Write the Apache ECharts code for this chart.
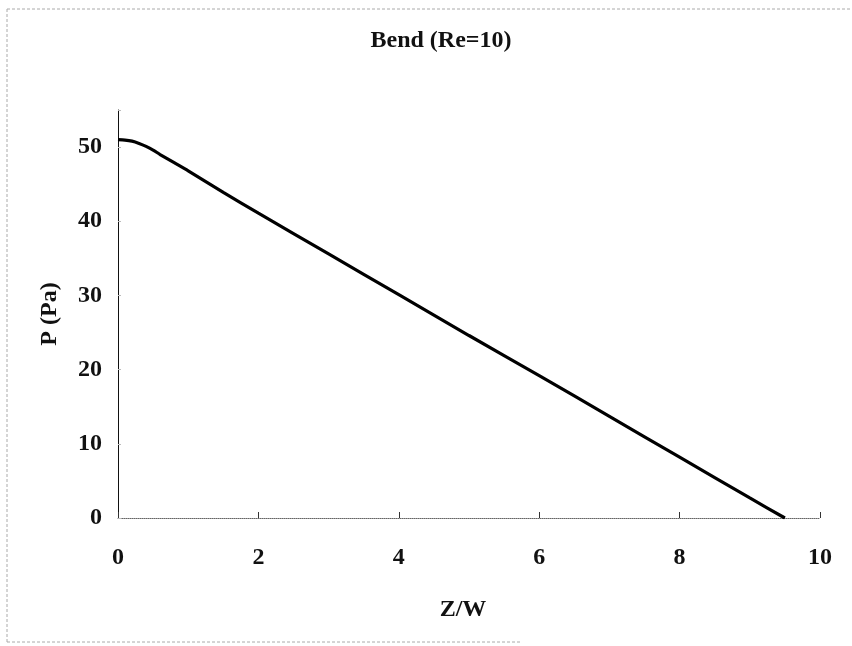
<!DOCTYPE html>
<html>
<head>
<meta charset="utf-8">
<title>Bend (Re=10)</title>
<script src="https://cdn.jsdelivr.net/npm/echarts@6/dist/echarts.min.js"></script>
<style>
  html, body { margin: 0; padding: 0; background: #fff; }
  #chart { width: 852px; height: 646px; }
</style>
</head>
<body>
<div id="chart"></div>
<script>
// pressure along the bend
var zw = [0, 0.1, 0.2, 0.3, 0.4, 0.5, 0.6, 0.8, 1.0, 1.5, 2, 3, 4, 5, 6, 7, 8, 9, 9.5];
var pressure = [51.0, 50.95, 50.8, 50.5, 50.1, 49.6, 49.0, 47.9, 46.8, 43.9, 41.1, 35.6, 30.1, 24.6, 19.2, 13.7, 8.2, 2.7, 0];
var xTicks = [0, 2, 4, 6, 8, 10];
var yTicks = [0, 10, 20, 30, 40, 50];

var font = 'Liberation Serif';
var points = [];
for (var i = 0; i < zw.length; i++) {
	points.push([zw[i], pressure[i]]);
}

var chart = echarts.init(document.getElementById('chart'));
var option = {
	backgroundColor: '#fff',
	animation: false,
	title: {
		text: 'Bend (Re=10)',
		left: 436,
		textAlign: 'center',
		top: 24,
		textStyle: { fontFamily: font, fontWeight: 'bold', fontSize: 24, color: '#111' }
	},
	grid: { left: 118, right: 32, top: 110, bottom: 128 },
	xAxis: {
		type: 'value',
		min: 0, max: 10, interval: 2,
		name: 'Z/W',
		nameLocation: 'middle',
		nameGap: 80,
		nameTextStyle: { fontFamily: font, fontWeight: 'bold', fontSize: 24, color: '#111', padding: [0, 12, 0, 0] },
		axisLine: { lineStyle: { color: '#666', width: 1, type: 'dotted' } },
		axisTick: { inside: true, length: 6, lineStyle: { color: '#333' } },
		axisLabel: {
			margin: 28,
			fontFamily: font, fontWeight: 'bold', fontSize: 24, color: '#111',
			formatter: function (v) { return xTicks.indexOf(v) >= 0 ? String(v) : ''; }
		},
		splitLine: { show: false }
	},
	yAxis: {
		type: 'value',
		min: 0, max: 55, interval: 10,
		name: 'P (Pa)',
		nameLocation: 'middle',
		nameGap: 56,
		nameTextStyle: { fontFamily: font, fontWeight: 'bold', fontSize: 24, color: '#111' },
		axisLine: { show: true, lineStyle: { color: '#111', width: 1 } },
		axisTick: { inside: true, length: 3, lineStyle: { color: '#bbb' } },
		axisLabel: {
			margin: 16,
			fontFamily: font, fontWeight: 'bold', fontSize: 24, color: '#111',
			formatter: function (v) { return yTicks.indexOf(v) >= 0 ? String(v) : ''; }
		},
		splitLine: { show: false }
	},
	graphic: [
		{ type: 'polyline', shape: { points: [[7, 9], [850, 9]] }, style: { stroke: '#aaa', lineWidth: 1, lineDash: [3, 2] } },
		{ type: 'polyline', shape: { points: [[7, 9], [7, 642]] }, style: { stroke: '#aaa', lineWidth: 1, lineDash: [3, 2] } },
		{ type: 'polyline', shape: { points: [[7, 642], [520, 642]] }, style: { stroke: '#aaa', lineWidth: 1, lineDash: [3, 2] } }
	],
	series: [{
		type: 'line',
		data: points,
		showSymbol: false,
		smooth: 0.2,
		lineStyle: { color: '#000', width: 3.2 }
	}]
};
chart.setOption(option);
</script>
</body>
</html>
